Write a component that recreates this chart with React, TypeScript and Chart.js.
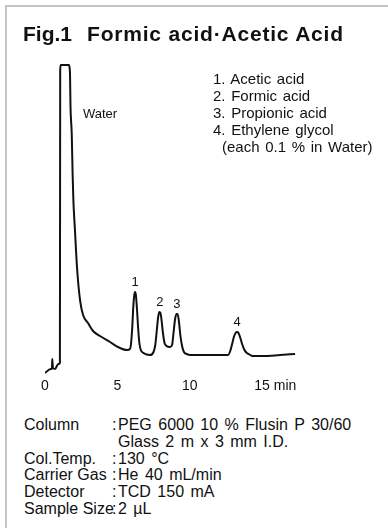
import React, { useEffect, useRef } from "react";
import { Chart, registerables } from "chart.js";

Chart.register(...registerables);

// Retention time (min) and detector signal (arbitrary units above baseline)
const times: number[] = [
  0, 0.39, 0.48, 0.5, 0.55, 0.69, 0.92, 1.03, 1.05, 1.09, 1.65, 1.7, 1.73, 1.76,
  1.85, 1.91, 1.96, 2.07, 2.21, 2.42, 2.63, 2.97, 3.32, 3.8, 4.49, 5.04, 5.67,
  5.87, 5.95, 6.03, 6.1, 6.17, 6.22, 6.28, 6.35, 6.43, 6.52, 6.62, 6.8,
  7.26, 7.5, 7.62, 7.72, 7.82, 7.9, 7.98, 8.06, 8.15, 8.26, 8.4, 8.64,
  8.78, 8.88, 8.98, 9.08, 9.16, 9.25, 9.35, 9.47, 9.6, 9.8, 10.02,
  12.65, 12.8, 12.93, 13.05, 13.17, 13.27, 13.37, 13.5, 13.62, 13.78, 13.95, 14.2,
  14.31, 15.07, 16.24, 17.28,
];
const signal: number[] = [
  -18, -14, -14, -4, -13, -14, -9, -8, 285, 290, 290, 287, 280, 250,
  220, 180, 155, 125, 88, 55, 40, 32, 24, 19, 13, 8, 5,
  6, 12, 28, 48, 60, 63, 60, 47, 28, 12, 5, 2,
  0, 3, 10, 24, 38, 43, 42, 34, 22, 12, 9, 8,
  10, 22, 35, 41, 41, 34, 20, 9, 3, 1, 0,
  0, 4, 11, 18, 22, 23, 22, 17, 11, 5, 2, 0,
  -1, -1, 0, 1,
];

const xTicks: number[] = [0, 5, 10, 15];
const xUnit = "min";

const peakNames: string[] = ["1", "2", "3", "4"];
const peakTimes: number[] = [6.22, 7.94, 9.12, 13.27];

const waterLabel = "Water";

const titleFig = "Fig.1";
const titleText = "Formic acid\u00b7Acetic Acid";
const compounds: string[] = [
  "1. Acetic acid",
  "2. Formic acid",
  "3. Propionic acid",
  "4. Ethylene glycol",
];
const compoundNote = "(each 0.1 % in Water)";

const condLabels: string[] = ["Column", "", "Col.Temp.", "Carrier Gas", "Detector", "Sample Size"];
const condValues: string[] = [
  "PEG 6000 10 % Flusin P 30/60",
  "Glass 2 m x 3 mm I.D.",
  "130 \u00b0C",
  "He 40 mL/min",
  "TCD 150 mA",
  "2 \u00b5L",
];

const FONT = '"Liberation Sans", Arial, Helvetica, sans-serif';
const TICK_PAD = 3;

export default function App() {
  const ref = useRef<HTMLCanvasElement | null>(null);

  useEffect(() => {
    if (!ref.current) return;
    const labelPlugin = {
      id: "peakLabels",
      afterDatasetsDraw(chart: any) {
        const { ctx, scales } = chart;
        const xs = scales.x;
        const ys = scales.y;
        ctx.save();
        ctx.fillStyle = "#111";
        ctx.font = `13px ${FONT}`;
        ctx.textAlign = "center";
        ctx.textBaseline = "bottom";
        peakNames.forEach((name, i) => {
          let best = 0;
          let bd = Infinity;
          times.forEach((t, j) => {
            const d = Math.abs(t - peakTimes[i]);
            if (d < bd) {
              bd = d;
              best = j;
            }
          });
          const px = xs.getPixelForValue(peakTimes[i]);
          const py = ys.getPixelForValue(signal[best]);
          ctx.fillText(name, px, py - 3);
        });
        ctx.textAlign = "left";
        ctx.textBaseline = "middle";
        ctx.fillText(waterLabel, xs.getPixelForValue(2.62), ys.getPixelForValue(241));
        // unit after last tick
        ctx.font = `14px ${FONT}`;
        const last = xTicks[xTicks.length - 1];
        const w = ctx.measureText(String(last)).width;
        const ty = chart.chartArea.bottom + TICK_PAD + 8.4;
        ctx.fillText(" " + xUnit, xs.getPixelForValue(last) + w / 2, ty);
        ctx.restore();
      },
    };
    const chart = new Chart(ref.current, {
      type: "line",
      data: {
        datasets: [
          {
            data: times.map((t, i) => ({ x: t, y: signal[i] })),
            borderColor: "#111",
            borderWidth: 2,
            pointRadius: 0,
            fill: false,
            cubicInterpolationMode: "monotone",
          },
        ],
      },
      options: {
        animation: false,
        responsive: false,
        maintainAspectRatio: false,
        layout: { padding: { left: 45, right: 82.5, top: 55, bottom: 0 } },
        scales: {
          x: {
            type: "linear",
            min: 0,
            max: 18,
            grid: { display: false, drawTicks: false },
            border: { display: false },
            afterFit: (scale: any) => {
              scale.height = 25;
            },
            ticks: {
              stepSize: 5,
              autoSkip: false,
              maxRotation: 0,
              padding: TICK_PAD,
              color: "#111",
              font: { family: FONT, size: 14 },
              callback: (v: any) => (xTicks.includes(Number(v)) ? String(v) : ""),
            },
          },
          y: { display: false, min: -20, max: 300 },
        },
        plugins: { legend: { display: false }, tooltip: { enabled: false } },
      },
      plugins: [labelPlugin],
    } as any);
    return () => chart.destroy();
  }, []);

  return (
    <div
      style={{
        position: "absolute",
        left: 0,
        top: 0,
        width: 388,
        height: 528,
        overflow: "hidden",
        background: "#fff",
        fontFamily: FONT,
        color: "#111",
      }}
    >
      <div
        style={{
          position: "absolute",
          left: 5,
          top: 5,
          right: 0,
          bottom: 0,
          borderLeft: "2px solid #c4c4c4",
          borderTop: "2px solid #c4c4c4",
        }}
      />
      <canvas
        ref={ref}
        width={388}
        height={400}
        style={{ position: "absolute", left: 0, top: 0, width: 388, height: 400 }}
      />
      <div
        style={{
          position: "absolute",
          left: 23,
          top: 22,
          fontSize: 21,
          fontWeight: "bold",
          whiteSpace: "pre",
          lineHeight: "24px",
        }}
      >
        {titleFig}
      </div>
      <div
        style={{
          position: "absolute",
          left: 87,
          top: 22,
          fontSize: 21,
          fontWeight: "bold",
          whiteSpace: "pre",
          lineHeight: "24px",
          letterSpacing: "0.8px",
        }}
      >
        {titleText}
      </div>
      <div
        style={{
          position: "absolute",
          left: 213,
          top: 70,
          fontSize: 15,
          lineHeight: "17px",
          whiteSpace: "pre",
          wordSpacing: "1.5px",
        }}
      >
        {compounds.map((c) => (
          <div key={c}>{c}</div>
        ))}
        <div style={{ paddingLeft: 9 }}>{compoundNote}</div>
      </div>
      <div
        style={{
          position: "absolute",
          left: 24,
          top: 417,
          fontSize: 16,
          lineHeight: "16.8px",
          whiteSpace: "pre",
        }}
      >
        {condLabels.map((l, i) => (
          <div key={i} style={{ display: "flex" }}>
            <span style={{ width: 88, display: "inline-block" }}>{l}</span>
            <span style={{ width: 6, display: "inline-block" }}>{l ? ":" : ""}</span>
            <span style={{ wordSpacing: "2px" }}>{condValues[i]}</span>
          </div>
        ))}
      </div>
    </div>
  );
}
